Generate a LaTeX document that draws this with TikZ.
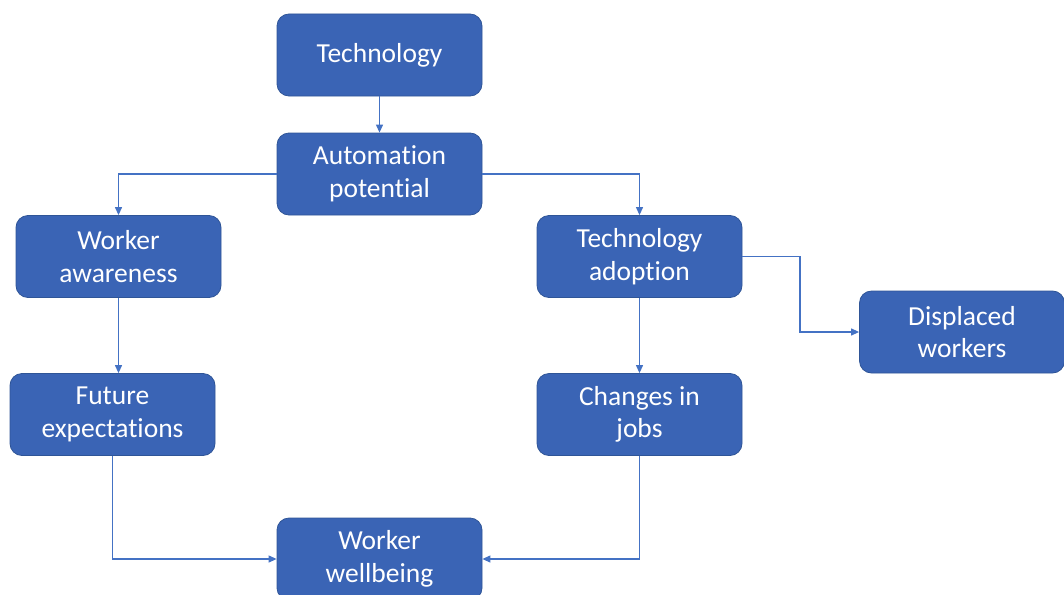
\documentclass[tikz,border=0pt]{standalone}
\usepackage{fontspec}
\setmainfont{Carlito}[Ligatures=NoCommon]
\usetikzlibrary{arrows.meta}

\definecolor{boxblue}{HTML}{3A64B5}
\definecolor{boxedge}{HTML}{2F5597}
\definecolor{linkblue}{HTML}{4472C4}

\tikzset{
  factor/.style={draw=boxedge, fill=boxblue, line width=0.8pt, rounded corners=12pt,
    minimum width=205pt, minimum height=82pt, align=center, text=white,
    font=\fontsize{27.5}{32.5}\selectfont},
  link/.style={draw=linkblue, line width=1.2pt, -{Triangle[length=8pt,width=7pt]}}
}

\begin{document}
\begin{tikzpicture}[x=1pt, y=-1pt]
% page
  \useasboundingbox (0,0) rectangle (1064,594);
  \clip (0,0) rectangle (1064,594);

  % boxes
  \node[factor] (tech) at (379.5,55) {Technology};
  \node[factor] (auto) at (379.5,174) {Automation\\potential};
  \node[factor] (aware) at (118.5,256.5) {Worker\\awareness};
  \node[factor] (adopt) at (639.5,256.5) {Technology\\adoption};
  \node[factor] (displ) at (962,332) {Displaced\\workers};
  \node[factor] (expect) at (112.5,414.5) {Future\\expectations};
  \node[factor] (jobs) at (639.5,414.5) {Changes in\\jobs};
  \node[factor] (well) at (379.5,559) {Worker\\wellbeing};

  % links
  \draw[link] (tech) -- (auto);
  \draw[link] (auto.west) -| (aware.north);
  \draw[link] (auto.east) -| (adopt.north);
  \draw[link] (aware) -- (aware |- expect.north);
  \draw[link] (adopt) -- (jobs);
  \draw[link] (adopt.east) -- (800,256.5) |- (displ.west);
  \draw[link] (expect.south) |- (well.west);
  \draw[link] (jobs.south) |- (well.east);

\end{tikzpicture}
\end{document}
